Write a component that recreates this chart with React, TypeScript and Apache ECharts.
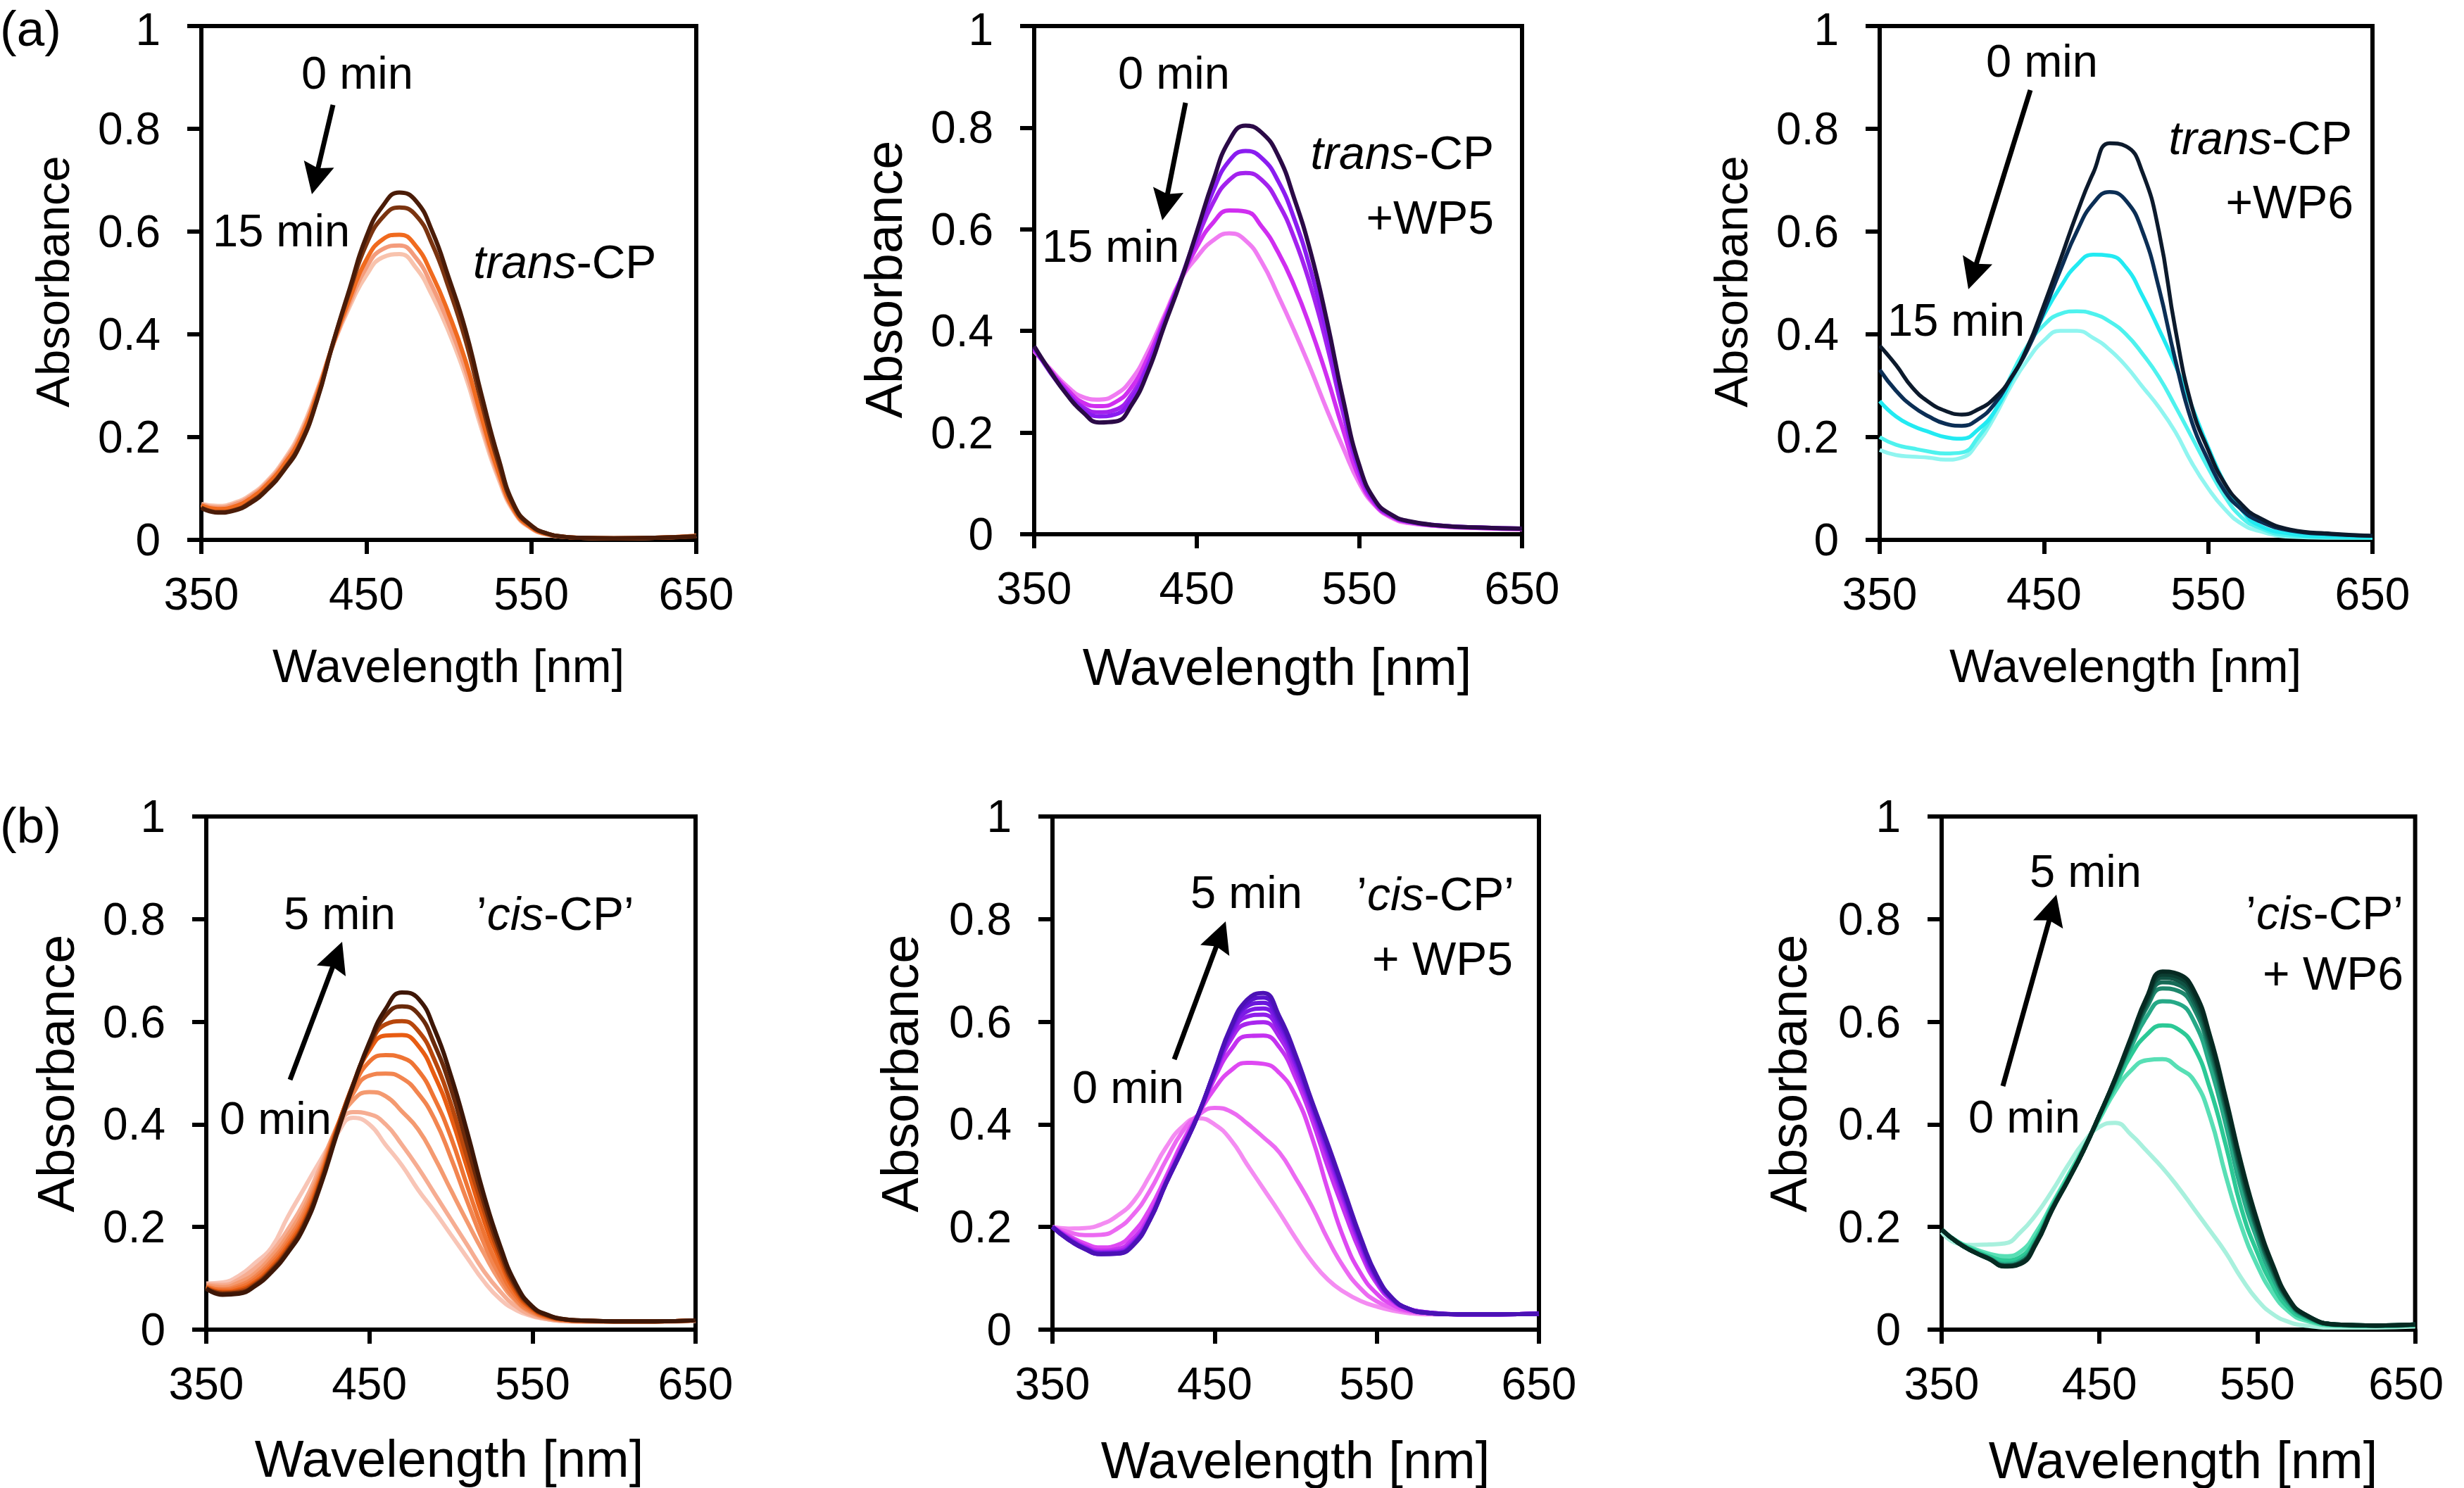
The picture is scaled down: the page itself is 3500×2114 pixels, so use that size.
import React, { useEffect, useRef } from 'react';
import * as echarts from 'echarts';

// ---------------- data ----------------
const WAVELENGTH = [350, 360, 370, 380, 390, 400, 410, 420, 430, 440, 450, 460, 470, 480, 490, 500, 510, 520, 530, 540, 550, 560, 570, 580, 600, 625, 650];
const X_TICKS = [350, 450, 550, 650];
const Y_TICKS = [0, 0.2, 0.4, 0.6, 0.8, 1];

// (a) trans-CP, 0 min (darkest) -> 15 min (lightest)
const TRANS_CP = [
  [0.062, 0.053, 0.057, 0.072, 0.098, 0.135, 0.185, 0.27, 0.385, 0.49, 0.59, 0.65, 0.676, 0.66, 0.6, 0.51, 0.41, 0.28, 0.16, 0.065, 0.028, 0.012, 0.006, 0.004, 0.003, 0.004, 0.007],
  [0.063, 0.054, 0.058, 0.074, 0.1, 0.137, 0.188, 0.272, 0.385, 0.485, 0.575, 0.628, 0.647, 0.632, 0.575, 0.49, 0.39, 0.265, 0.15, 0.062, 0.027, 0.012, 0.006, 0.004, 0.003, 0.004, 0.007],
  [0.067, 0.06, 0.065, 0.081, 0.108, 0.146, 0.198, 0.281, 0.383, 0.47, 0.545, 0.585, 0.594, 0.572, 0.515, 0.44, 0.35, 0.237, 0.133, 0.056, 0.024, 0.011, 0.006, 0.004, 0.003, 0.004, 0.008],
  [0.069, 0.063, 0.069, 0.085, 0.112, 0.151, 0.204, 0.286, 0.381, 0.462, 0.53, 0.566, 0.573, 0.549, 0.493, 0.42, 0.333, 0.225, 0.126, 0.054, 0.023, 0.01, 0.006, 0.004, 0.003, 0.004, 0.008],
  [0.07, 0.066, 0.072, 0.088, 0.115, 0.155, 0.21, 0.29, 0.38, 0.455, 0.515, 0.55, 0.556, 0.53, 0.475, 0.405, 0.32, 0.215, 0.12, 0.052, 0.022, 0.01, 0.006, 0.004, 0.003, 0.004, 0.008],
];
const TRANS_CP_COLORS = ['#4a1c08', '#7b3410', '#f06a1e', '#f49c7c', '#f8c3ad'];

// (a) trans-CP + WP5
const TRANS_WP5 = [
  [0.37, 0.32, 0.275, 0.24, 0.22, 0.222, 0.255, 0.32, 0.41, 0.497, 0.595, 0.695, 0.775, 0.804, 0.79, 0.745, 0.66, 0.555, 0.42, 0.265, 0.135, 0.065, 0.038, 0.026, 0.017, 0.013, 0.011],
  [0.368, 0.318, 0.277, 0.245, 0.232, 0.236, 0.267, 0.33, 0.415, 0.5, 0.59, 0.675, 0.735, 0.754, 0.74, 0.695, 0.62, 0.52, 0.395, 0.25, 0.128, 0.063, 0.037, 0.025, 0.017, 0.013, 0.011],
  [0.366, 0.32, 0.28, 0.25, 0.24, 0.245, 0.275, 0.335, 0.418, 0.5, 0.58, 0.652, 0.697, 0.711, 0.697, 0.652, 0.582, 0.488, 0.372, 0.238, 0.123, 0.061, 0.036, 0.025, 0.017, 0.013, 0.011],
  [0.363, 0.322, 0.286, 0.259, 0.252, 0.26, 0.29, 0.348, 0.424, 0.5, 0.565, 0.613, 0.637, 0.635, 0.605, 0.555, 0.488, 0.405, 0.31, 0.205, 0.11, 0.057, 0.034, 0.024, 0.016, 0.012, 0.01],
  [0.36, 0.325, 0.292, 0.27, 0.265, 0.275, 0.305, 0.36, 0.43, 0.5, 0.545, 0.578, 0.592, 0.578, 0.535, 0.47, 0.4, 0.325, 0.245, 0.17, 0.1, 0.055, 0.032, 0.022, 0.016, 0.012, 0.01],
];
const TRANS_WP5_COLORS = ['#2b0a47', '#8a1cf0', '#a322ee', '#d02ef0', '#f07cf2'];

// (a) trans-CP + WP6
const TRANS_WP6 = [
  [0.378, 0.34, 0.296, 0.268, 0.251, 0.244, 0.254, 0.276, 0.315, 0.375, 0.457, 0.545, 0.635, 0.714, 0.772, 0.766, 0.715, 0.6, 0.41, 0.26, 0.175, 0.11, 0.07, 0.045, 0.02, 0.012, 0.008],
  [0.331, 0.29, 0.26, 0.24, 0.226, 0.222, 0.235, 0.265, 0.315, 0.37, 0.445, 0.525, 0.6, 0.655, 0.677, 0.66, 0.6, 0.49, 0.35, 0.23, 0.155, 0.095, 0.06, 0.038, 0.018, 0.011, 0.008],
  [0.27, 0.24, 0.222, 0.21, 0.2, 0.197, 0.215, 0.25, 0.31, 0.375, 0.438, 0.492, 0.535, 0.555, 0.553, 0.53, 0.475, 0.41, 0.34, 0.26, 0.18, 0.11, 0.06, 0.03, 0.012, 0.006, 0.005],
  [0.2, 0.185, 0.178, 0.172, 0.168, 0.17, 0.2, 0.25, 0.32, 0.378, 0.418, 0.44, 0.445, 0.44, 0.425, 0.4, 0.362, 0.317, 0.26, 0.2, 0.14, 0.085, 0.045, 0.025, 0.008, 0.005, 0.004],
  [0.175, 0.165, 0.162, 0.16, 0.156, 0.16, 0.19, 0.24, 0.3, 0.35, 0.388, 0.407, 0.407, 0.393, 0.37, 0.338, 0.298, 0.258, 0.21, 0.15, 0.1, 0.06, 0.032, 0.018, 0.006, 0.004, 0.004],
];
const TRANS_WP6_COLORS = ['#0c1a2c', '#0b2e55', '#22eaf2', '#4ef2ee', '#90f5f0'];

// (b) 'cis-CP', 5 min (darkest) -> 0 min (lightest)
const CIS_CP = [
  [0.08, 0.068, 0.07, 0.085, 0.112, 0.15, 0.2, 0.28, 0.38, 0.475, 0.56, 0.625, 0.657, 0.645, 0.585, 0.495, 0.385, 0.265, 0.165, 0.088, 0.045, 0.028, 0.02, 0.018, 0.016, 0.016, 0.018],
  [0.08, 0.07, 0.072, 0.087, 0.115, 0.153, 0.204, 0.284, 0.384, 0.477, 0.556, 0.612, 0.63, 0.615, 0.555, 0.47, 0.36, 0.25, 0.155, 0.083, 0.044, 0.027, 0.02, 0.018, 0.016, 0.016, 0.018],
  [0.081, 0.072, 0.075, 0.09, 0.118, 0.157, 0.208, 0.288, 0.388, 0.478, 0.552, 0.595, 0.601, 0.582, 0.525, 0.44, 0.335, 0.235, 0.145, 0.078, 0.042, 0.026, 0.02, 0.018, 0.016, 0.016, 0.018],
  [0.082, 0.074, 0.078, 0.093, 0.122, 0.162, 0.213, 0.293, 0.39, 0.477, 0.544, 0.573, 0.574, 0.553, 0.495, 0.415, 0.315, 0.215, 0.135, 0.072, 0.04, 0.025, 0.019, 0.017, 0.016, 0.016, 0.018],
  [0.083, 0.077, 0.082, 0.098, 0.128, 0.168, 0.22, 0.298, 0.392, 0.47, 0.522, 0.535, 0.53, 0.505, 0.45, 0.375, 0.28, 0.19, 0.118, 0.065, 0.037, 0.024, 0.019, 0.017, 0.016, 0.016, 0.018],
  [0.084, 0.079, 0.086, 0.103, 0.134, 0.175, 0.228, 0.303, 0.393, 0.46, 0.495, 0.499, 0.49, 0.46, 0.41, 0.335, 0.25, 0.17, 0.105, 0.058, 0.034, 0.023, 0.018, 0.017, 0.016, 0.016, 0.018],
  [0.086, 0.083, 0.092, 0.11, 0.142, 0.184, 0.237, 0.31, 0.395, 0.447, 0.463, 0.455, 0.425, 0.39, 0.335, 0.272, 0.21, 0.15, 0.095, 0.055, 0.032, 0.022, 0.018, 0.016, 0.016, 0.016, 0.018],
  [0.088, 0.087, 0.098, 0.12, 0.15, 0.195, 0.248, 0.318, 0.39, 0.424, 0.42, 0.4, 0.36, 0.315, 0.265, 0.215, 0.165, 0.115, 0.075, 0.045, 0.028, 0.02, 0.017, 0.016, 0.015, 0.015, 0.017],
  [0.09, 0.092, 0.105, 0.13, 0.16, 0.22, 0.275, 0.33, 0.38, 0.413, 0.4, 0.36, 0.32, 0.272, 0.23, 0.185, 0.14, 0.095, 0.06, 0.038, 0.026, 0.02, 0.016, 0.015, 0.015, 0.015, 0.017],
];
const CIS_CP_COLORS = ['#3e1707', '#6a2a0b', '#b8470c', '#e85c12', '#ef7434', '#f28550', '#f49a70', '#f6ad92', '#f8c5b6'];

// (b) 'cis-CP' + WP5
const CIS_WP5 = [
  [0.2, 0.175, 0.157, 0.147, 0.148, 0.165, 0.213, 0.285, 0.35, 0.42, 0.505, 0.59, 0.643, 0.656, 0.61, 0.535, 0.445, 0.36, 0.27, 0.18, 0.105, 0.06, 0.04, 0.033, 0.03, 0.03, 0.031],
  [0.2, 0.175, 0.157, 0.147, 0.148, 0.166, 0.214, 0.285, 0.351, 0.42, 0.504, 0.587, 0.637, 0.647, 0.604, 0.531, 0.443, 0.357, 0.267, 0.177, 0.104, 0.06, 0.04, 0.033, 0.03, 0.03, 0.031],
  [0.2, 0.176, 0.158, 0.148, 0.149, 0.167, 0.214, 0.285, 0.351, 0.42, 0.503, 0.583, 0.63, 0.637, 0.598, 0.527, 0.44, 0.354, 0.264, 0.175, 0.102, 0.059, 0.04, 0.033, 0.03, 0.03, 0.031],
  [0.2, 0.176, 0.158, 0.149, 0.15, 0.168, 0.215, 0.286, 0.352, 0.42, 0.502, 0.578, 0.62, 0.626, 0.591, 0.522, 0.437, 0.349, 0.26, 0.172, 0.1, 0.059, 0.04, 0.033, 0.03, 0.03, 0.031],
  [0.2, 0.177, 0.159, 0.15, 0.151, 0.169, 0.215, 0.286, 0.352, 0.42, 0.5, 0.573, 0.61, 0.614, 0.582, 0.515, 0.432, 0.343, 0.255, 0.168, 0.098, 0.058, 0.04, 0.034, 0.03, 0.03, 0.031],
  [0.2, 0.178, 0.16, 0.151, 0.153, 0.172, 0.217, 0.287, 0.354, 0.42, 0.497, 0.565, 0.596, 0.599, 0.57, 0.505, 0.425, 0.335, 0.248, 0.162, 0.095, 0.057, 0.04, 0.034, 0.03, 0.03, 0.031],
  [0.2, 0.18, 0.163, 0.154, 0.157, 0.178, 0.222, 0.29, 0.358, 0.42, 0.49, 0.545, 0.572, 0.573, 0.55, 0.49, 0.41, 0.315, 0.23, 0.15, 0.09, 0.055, 0.04, 0.034, 0.03, 0.03, 0.031],
  [0.2, 0.183, 0.168, 0.16, 0.165, 0.19, 0.235, 0.298, 0.365, 0.42, 0.47, 0.505, 0.52, 0.518, 0.5, 0.455, 0.375, 0.27, 0.175, 0.11, 0.07, 0.048, 0.037, 0.033, 0.03, 0.03, 0.031],
  [0.2, 0.19, 0.184, 0.185, 0.197, 0.225, 0.27, 0.33, 0.385, 0.418, 0.432, 0.425, 0.402, 0.375, 0.345, 0.295, 0.24, 0.175, 0.12, 0.08, 0.055, 0.042, 0.035, 0.032, 0.03, 0.03, 0.031],
  [0.2, 0.197, 0.198, 0.205, 0.222, 0.25, 0.3, 0.355, 0.395, 0.412, 0.4, 0.37, 0.322, 0.275, 0.228, 0.178, 0.133, 0.097, 0.073, 0.056, 0.045, 0.037, 0.032, 0.03, 0.03, 0.03, 0.031],
];
const CIS_WP5_COLORS = ['#4b12b5', '#5812cc', '#6a16dc', '#7c1ae6', '#8f1eea', '#a826ee', '#c432f0', '#de48f2', '#ec6af2', '#f48cf2'];

// (b) 'cis-CP' + WP6
const CIS_WP6 = [
  [0.195, 0.17, 0.152, 0.138, 0.123, 0.128, 0.168, 0.233, 0.29, 0.35, 0.418, 0.49, 0.57, 0.648, 0.698, 0.693, 0.66, 0.573, 0.452, 0.322, 0.212, 0.125, 0.06, 0.03, 0.01, 0.008, 0.01],
  [0.195, 0.17, 0.152, 0.138, 0.124, 0.129, 0.169, 0.234, 0.29, 0.35, 0.418, 0.489, 0.567, 0.643, 0.692, 0.687, 0.653, 0.566, 0.446, 0.316, 0.207, 0.122, 0.059, 0.03, 0.01, 0.008, 0.01],
  [0.195, 0.17, 0.152, 0.138, 0.124, 0.13, 0.17, 0.235, 0.291, 0.35, 0.418, 0.488, 0.565, 0.638, 0.686, 0.68, 0.645, 0.559, 0.44, 0.31, 0.2, 0.118, 0.058, 0.029, 0.01, 0.008, 0.01],
  [0.195, 0.17, 0.152, 0.139, 0.125, 0.131, 0.171, 0.235, 0.291, 0.35, 0.418, 0.487, 0.562, 0.633, 0.677, 0.672, 0.636, 0.55, 0.432, 0.302, 0.195, 0.114, 0.056, 0.028, 0.01, 0.008, 0.01],
  [0.195, 0.17, 0.152, 0.139, 0.125, 0.131, 0.171, 0.236, 0.291, 0.35, 0.418, 0.486, 0.56, 0.628, 0.665, 0.66, 0.625, 0.54, 0.425, 0.295, 0.19, 0.11, 0.055, 0.028, 0.01, 0.008, 0.01],
  [0.195, 0.17, 0.153, 0.14, 0.128, 0.135, 0.174, 0.237, 0.292, 0.35, 0.417, 0.482, 0.55, 0.61, 0.64, 0.635, 0.6, 0.515, 0.4, 0.27, 0.175, 0.1, 0.05, 0.026, 0.009, 0.007, 0.009],
  [0.195, 0.171, 0.155, 0.143, 0.135, 0.142, 0.18, 0.24, 0.295, 0.352, 0.415, 0.475, 0.535, 0.575, 0.593, 0.585, 0.55, 0.47, 0.36, 0.235, 0.15, 0.085, 0.042, 0.022, 0.009, 0.007, 0.009],
  [0.195, 0.172, 0.158, 0.148, 0.143, 0.152, 0.19, 0.245, 0.3, 0.355, 0.41, 0.465, 0.505, 0.525, 0.527, 0.51, 0.485, 0.415, 0.3, 0.2, 0.125, 0.07, 0.035, 0.018, 0.008, 0.007, 0.009],
  [0.19, 0.168, 0.165, 0.166, 0.168, 0.19, 0.225, 0.27, 0.32, 0.365, 0.395, 0.403, 0.38, 0.348, 0.315, 0.277, 0.235, 0.193, 0.15, 0.1, 0.058, 0.03, 0.015, 0.008, 0.004, 0.004, 0.006],
];
const CIS_WP6_COLORS = ['#062a22', '#0b3d31', '#105243', '#166a56', '#1e876c', '#26a987', '#2cc996', '#58dfb5', '#a8f0dd'];

// ---------------- layout ----------------
const FONT = '"Liberation Sans", Arial, Helvetica, sans-serif';

const PANELS = [
  { curves: TRANS_CP, colors: TRANS_CP_COLORS, left: 286, top: 30, width: 703, height: 737, lw: 6, shiftMax: 0, topRow: true },
  { curves: TRANS_WP5, colors: TRANS_WP5_COLORS, left: 1469, top: 29, width: 693, height: 730, lw: 6, shiftMax: 0, topRow: true },
  { curves: TRANS_WP6, colors: TRANS_WP6_COLORS, left: 2670, top: 29, width: 700, height: 738, lw: 5.5, shiftMax: 0, topRow: true },
  { curves: CIS_CP, colors: CIS_CP_COLORS, left: 293, top: 1160, width: 695, height: 729, lw: 6, shiftMax: 0, topRow: false },
  { curves: CIS_WP5, colors: CIS_WP5_COLORS, left: 1495, top: 1160, width: 691, height: 729, lw: 6, shiftMax: 0, topRow: false },
  { curves: CIS_WP6, colors: CIS_WP6_COLORS, left: 2758, top: 1160, width: 691, height: 729, lw: 6, shiftMax: 26, topRow: false },
];

function txt(x: number, y: number, text: string, size: number, align = 'left', extra: any = {}) {
  return {
    type: 'text',
    x,
    y,
    z: 100,
    style: {
      text,
      fontSize: size,
      fontFamily: FONT,
      fill: '#000',
      align,
      textAlign: align,
      verticalAlign: 'middle',
      textVerticalAlign: 'middle',
      lineHeight: Math.round(size * 0.9),
      rich: {
        i: { fontStyle: 'italic', fontSize: size, fontFamily: FONT, fill: '#000', lineHeight: Math.round(size * 0.9) },
      },
      ...extra,
    },
  };
}

function arrow(x1: number, y1: number, x2: number, y2: number) {
  const dx = x2 - x1;
  const dy = y2 - y1;
  const L = Math.hypot(dx, dy);
  const ux = dx / L;
  const uy = dy / L;
  const hl = 44;
  const hw = 22;
  const bx = x2 - ux * hl;
  const by = y2 - uy * hl;
  const nx = -uy;
  const ny = ux;
  const notch = 6;
  return [
    { type: 'line', z: 100, shape: { x1, y1, x2: bx + ux * 8, y2: by + uy * 8 }, style: { stroke: '#000', lineWidth: 7 } },
    {
      type: 'polygon',
      z: 100,
      shape: {
        points: [
          [x2, y2],
          [bx + nx * hw, by + ny * hw],
          [bx + ux * notch, by + uy * notch],
          [bx - nx * hw, by - ny * hw],
        ],
      },
      style: { fill: '#000' },
    },
  ];
}

export default function App() {
  const ref = useRef<HTMLDivElement>(null);

  useEffect(() => {
    if (!ref.current) return;
    const chart = echarts.init(ref.current, undefined, { renderer: 'svg' });

    const grid = PANELS.map((p) => ({
      left: p.left,
      top: p.top,
      width: p.width,
      height: p.height,
      show: true,
      borderColor: '#000',
      borderWidth: 6,
      backgroundColor: 'transparent',
      containLabel: false,
    }));

    const xAxis = PANELS.map((p, i) => ({
      type: 'value',
      gridIndex: i,
      min: X_TICKS[0],
      max: X_TICKS[X_TICKS.length - 1],
      interval: 100,
      axisLine: { show: true, lineStyle: { color: '#000', width: 6 } },
      axisTick: { show: true, inside: false, length: 20, lineStyle: { color: '#000', width: 6 } },
      axisLabel: {
        show: true,
        fontSize: 64,
        fontFamily: FONT,
        color: '#000',
        margin: 48,
        lineHeight: 58,
        formatter: (v: number) => (p.shiftMax && v === X_TICKS[X_TICKS.length - 1] ? '{r|' + v + '}' : String(v)),
        rich: {
          r: { fontSize: 64, fontFamily: FONT, color: '#000', lineHeight: 58, padding: [0, p.shiftMax, 0, 0] },
        },
      },
      splitLine: { show: false },
    }));

    const yAxis = PANELS.map((p, i) => ({
      type: 'value',
      gridIndex: i,
      min: Y_TICKS[0],
      max: Y_TICKS[Y_TICKS.length - 1],
      interval: 0.2,
      axisLine: { show: true, lineStyle: { color: '#000', width: 6 } },
      axisTick: { show: true, inside: false, length: 20, lineStyle: { color: '#000', width: 6 } },
      axisLabel: {
        show: true,
        fontSize: 64,
        fontFamily: FONT,
        color: '#000',
        margin: 58,
        lineHeight: 54,
        formatter: (v: number) => {
          if (Math.abs(v) < 1e-9) return '0';
          if (Math.abs(v - 1) < 1e-9) return p.topRow ? '{t|1}' : '1';
          return String(+v.toFixed(1));
        },
        rich: {
          t: { fontSize: 64, fontFamily: FONT, color: '#000', lineHeight: 54, padding: [10, 0, 0, 0] },
        },
      },
      splitLine: { show: false },
    }));

    const series: any[] = [];
    PANELS.forEach((p, pi) => {
      // draw lightest first, darkest last (on top)
      for (let ci = p.curves.length - 1; ci >= 0; ci--) {
        const c = p.curves[ci];
        series.push({
          type: 'line',
          xAxisIndex: pi,
          yAxisIndex: pi,
          data: WAVELENGTH.map((w, k) => [w, c[k]]),
          showSymbol: false,
          symbol: 'none',
          smooth: 0.5,
          silent: true,
          clip: true,
          lineStyle: { width: p.lw, color: p.colors[ci] },
          itemStyle: { color: p.colors[ci] },
        });
      }
    });

    const graphic: any[] = [
      // panel letters
      txt(0, 40, '(a)', 71),
      txt(0, 1172, '(b)', 71),
      // y titles
      txt(74, 400, 'Absorbance', 67, 'center'),
      txt(1255, 397, 'Absorbance', 74, 'center'),
      txt(2458, 400, 'Absorbance', 67, 'center'),
      txt(79, 1525, 'Absorbance', 74, 'center'),
      txt(1278, 1525, 'Absorbance', 74, 'center'),
      txt(2540, 1525, 'Absorbance', 74, 'center'),
      // x titles
      txt(637, 945, 'Wavelength [nm]', 67, 'center'),
      txt(1814, 947, 'Wavelength [nm]', 74, 'center'),
      txt(3019, 945, 'Wavelength [nm]', 67, 'center'),
      txt(638, 2072, 'Wavelength [nm]', 74, 'center'),
      txt(1840, 2074, 'Wavelength [nm]', 74, 'center'),
      txt(3101, 2074, 'Wavelength [nm]', 74, 'center'),
      // panel 1 annotations
      txt(428, 103, '0 min', 65),
      txt(302, 327, '15 min', 65),
      txt(672, 372, '{i|trans}-CP', 66),
      ...arrow(473, 149, 443, 276),
      // panel 2
      txt(1588, 103, '0 min', 65),
      txt(1480, 349, '15 min', 65),
      txt(2122, 217, '{i|trans}-CP', 66, 'right'),
      txt(2122, 309, '+WP5', 66, 'right'),
      ...arrow(1684, 146, 1651, 313),
      // panel 3
      txt(2821, 86, '0 min', 65),
      txt(2681, 454, '15 min', 65),
      txt(3341, 196, '{i|trans}-CP', 66, 'right'),
      txt(3343, 287, '+WP6', 66, 'right'),
      ...arrow(2884, 128, 2796, 411),
      // panel 4
      txt(403, 1297, '5 min', 65),
      txt(312, 1588, '0 min', 65),
      txt(677, 1298, '\u2019{i|cis}-CP\u2019', 66),
      ...arrow(412, 1534, 486, 1338),
      // panel 5
      txt(1691, 1267, '5 min', 65),
      txt(1523, 1544, '0 min', 65),
      txt(2151, 1270, '\u2019{i|cis}-CP\u2019', 66, 'right'),
      txt(2149, 1362, '+ WP5', 66, 'right'),
      ...arrow(1668, 1505, 1741, 1309),
      // panel 6
      txt(2883, 1237, '5 min', 65),
      txt(2796, 1586, '0 min', 65),
      txt(3414, 1297, '\u2019{i|cis}-CP\u2019', 66, 'right'),
      txt(3414, 1383, '+ WP6', 66, 'right'),
      ...arrow(2845, 1543, 2921, 1271),
    ];

    // rotate the Absorbance titles
    graphic.forEach((g) => {
      if (g.type === 'text' && g.style.text === 'Absorbance') g.rotation = Math.PI / 2;
    });

    chart.setOption({
      animation: false,
      backgroundColor: '#ffffff',
      grid,
      xAxis,
      yAxis,
      series,
      graphic,
    });

    return () => chart.dispose();
  }, []);

  return (
    <div
      ref={ref}
      style={{ position: 'absolute', left: 0, top: 0, width: 3500, height: 2114, background: '#fff' }}
    />
  );
}
